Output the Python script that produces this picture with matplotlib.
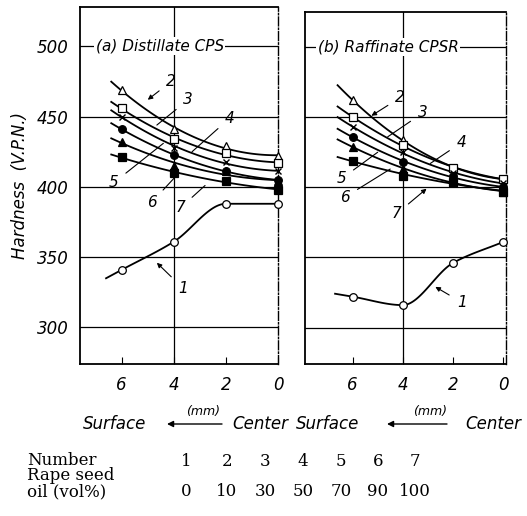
import matplotlib.pyplot as plt
import numpy as np

# depth from the surface side (mm), center = 0
depth = np.array([6, 4, 2, 0])

# hardness (V.P.N.), series 1..7 = rape seed oil 0,10,30,50,70,90,100 vol%
dist_1 = [341, 361, 388, 388]
dist_2 = [469, 441, 429, 422]
dist_3 = [456, 434, 424, 417]
dist_4 = [450, 428, 418, 411]
dist_5 = [441, 423, 411, 405]
dist_6 = [432, 415, 411, 404]
dist_7 = [421, 410, 404, 398]

raff_1 = [322, 316, 346, 361]
raff_2 = [462, 434, 414, 406]
raff_3 = [450, 430, 414, 406]
raff_4 = [443, 425, 410, 403]
raff_5 = [436, 418, 408, 400]
raff_6 = [429, 413, 404, 397]
raff_7 = [419, 408, 404, 397]

numbers = ['1', '2', '3', '4', '5', '6', '7']
oil_vol = ['0', '10', '30', '50', '70', '90', '100']

markers = ['o', '^', 's', 'x', 'o', '^', 's']
filled = [False, False, False, False, True, True, True]

W, H = 527, 516
fig = plt.figure(figsize=(W / 100, H / 100), dpi=100)


def px(x0, y0, x1, y1):
    return [x0 / W, 1 - y1 / H, (x1 - x0) / W, (y1 - y0) / H]


def smooth(x, y, x_start, n=120):
    # monotone cubic hermite drawn through the points (x increasing order)
    x = np.asarray(x, float)[::-1]
    y = np.asarray(y, float)[::-1]
    h = np.diff(x)
    d = np.diff(y) / h
    m = np.zeros_like(y)
    m[0], m[-1] = d[0], d[-1]
    for k in range(1, len(x) - 1):
        if d[k - 1] * d[k] > 0:
            m[k] = 2 / (1 / d[k - 1] + 1 / d[k])
    xs = np.linspace(x[0], x_start, n)
    idx = np.clip(np.searchsorted(x, xs) - 1, 0, len(x) - 2)
    t = np.clip((xs - x[idx]) / h[idx], 0, 1)
    h00 = 2 * t**3 - 3 * t**2 + 1
    h10 = t**3 - 2 * t**2 + t
    h01 = -2 * t**3 + 3 * t**2
    h11 = t**3 - t**2
    ys = h00 * y[idx] + h10 * h[idx] * m[idx] + h01 * y[idx + 1] + h11 * h[idx] * m[idx + 1]
    out = xs > x[-1]
    ys[out] = y[-1] + m[-1] * (xs[out] - x[-1])
    return xs, ys


ax1 = fig.add_axes(px(80, 7, 278, 364))
ax2 = fig.add_axes(px(305, 12, 506, 364))

it = dict(style='italic', family='DejaVu Sans')


def panel(ax, series, xlim, ylim, title, title_x, labels, start):
    ax.set_xlim(*xlim)
    ax.set_ylim(*ylim)
    for yv in [300, 350, 400, 450, 500]:
        ax.axhline(yv, color='black', lw=0.9, zorder=1)
    ax.axvline(4, color='black', lw=0.9, zorder=1)
    for s in ['left', 'top', 'bottom']:
        ax.spines[s].set_linewidth(1.3)
    ax.spines['right'].set_linestyle('-.')
    ax.spines['right'].set_linewidth(1.0)
    for i, yv in enumerate(series):
        yv = np.array(yv)
        if i == 0:
            xs, ys = smooth(depth, yv, start[0])
        else:
            c = np.polyfit(depth, yv, 2)
            xs = np.linspace(start[1], 0, 100)
            ys = np.polyval(c, xs)
        ax.plot(xs, ys, color='black', lw=1.3, zorder=2)
        mfc = 'black' if filled[i] else 'white'
        if markers[i] == 'x':
            ax.plot(depth, yv, 'x', color='black', ms=4.5, mew=1.0,
                    zorder=3, clip_on=False)
        else:
            ax.plot(depth, yv, markers[i], mfc=mfc, mec='black', ms=5.5,
                    mew=0.9, zorder=3, clip_on=False)
    ax.text(title_x, 500, title, ha='left', va='center', fontsize=11,
            bbox=dict(fc='white', ec='none', pad=1), zorder=4, **it)
    for lab, (tx, ty), (ax_, ay), arrow in labels:
        ax.annotate(lab, xy=(ax_, ay), xytext=(tx, ty), ha='center',
                    va='center', fontsize=11, zorder=5,
                    arrowprops=dict(arrowstyle='-|>' if arrow else '-',
                                    color='black', lw=0.8,
                                    mutation_scale=7, shrinkA=4, shrinkB=0),
                    **it)
    ax.set_xticks([6, 4, 2, 0])
    ax.set_xticklabels(['6', '4', '2', '0'], fontsize=12, **it)
    ax.tick_params(axis='x', direction='in', length=5, pad=9)
    ax.set_yticks([300, 350, 400, 450, 500])
    ax.tick_params(axis='y', length=0, pad=8)


labels_a = [('2', (4.1, 475), (5.0, 462), True),
            ('3', (3.45, 462), (4.65, 444), False),
            ('4', (1.85, 449), (3.3, 425), False),
            ('5', (6.3, 403), (4.4, 431), False),
            ('6', (4.85, 389), (3.8, 410), False),
            ('7', (3.75, 385), (2.8, 401), False),
            ('1', (3.65, 328), (4.65, 346), True)]
labels_b = [('2', (4.1, 464), (5.25, 451), True),
            ('3', (3.2, 453), (4.6, 436), False),
            ('4', (1.65, 432), (2.9, 417), False),
            ('5', (6.45, 406), (5.0, 425), False),
            ('6', (6.3, 393), (4.5, 413), False),
            ('7', (4.25, 381), (3.05, 399), True),
            ('1', (1.65, 318), (2.7, 329), True)]

panel(ax1, [dist_1, dist_2, dist_3, dist_4, dist_5, dist_6, dist_7],
      (7.6, 0), (274, 528), '(a) Distillate CPS', 7.0, labels_a, (6.6, 6.4))
panel(ax2, [raff_1, raff_2, raff_3, raff_4, raff_5, raff_6, raff_7],
      (7.9, -0.12), (274, 525), '(b) Raffinate CPSR', 7.4, labels_b, (6.7, 6.6))

ax1.set_yticklabels(['300', '350', '400', '450', '500'], fontsize=12, **it)
ax2.set_yticklabels([])
ax1.set_ylabel('Hardness  (V.P.N.)', fontsize=12, labelpad=6, **it)

# direction captions under the axes
for xs_, xa0, xa1, xm, xc in [(115, 222, 167, 203, 260), (328, 447, 387, 430, 493)]:
    fig.text(xs_ / W, 1 - 424 / H, 'Surface', ha='center', va='center',
             fontsize=12, **it)
    fig.text(xc / W, 1 - 424 / H, 'Center', ha='center', va='center',
             fontsize=12, **it)
    fig.text(xm / W, 1 - 412 / H, '(mm)', ha='center', va='center',
             fontsize=9, **it)
    plt.annotate('', xy=(xa1 / W, 1 - 424 / H), xytext=(xa0 / W, 1 - 424 / H),
                 xycoords='figure fraction',
                 arrowprops=dict(arrowstyle='-|>', color='black', lw=1.0,
                                 mutation_scale=9, shrinkA=0, shrinkB=0))

# legend table
serif = dict(family='DejaVu Serif', fontsize=12)
fig.text(27 / W, 1 - 476 / H, 'Number\nRape seed\noil (vol%)', ha='left',
         va='center', linespacing=0.88, **serif)
cols = [186, 227, 265, 303, 341, 378, 415]
for cx, n, v in zip(cols, numbers, oil_vol):
    fig.text(cx / W, 1 - 462 / H, n, ha='center', va='center', **serif)
    fig.text(cx / W, 1 - 491 / H, v, ha='center', va='center', **serif)

fig.savefig('out.png', dpi=100)
